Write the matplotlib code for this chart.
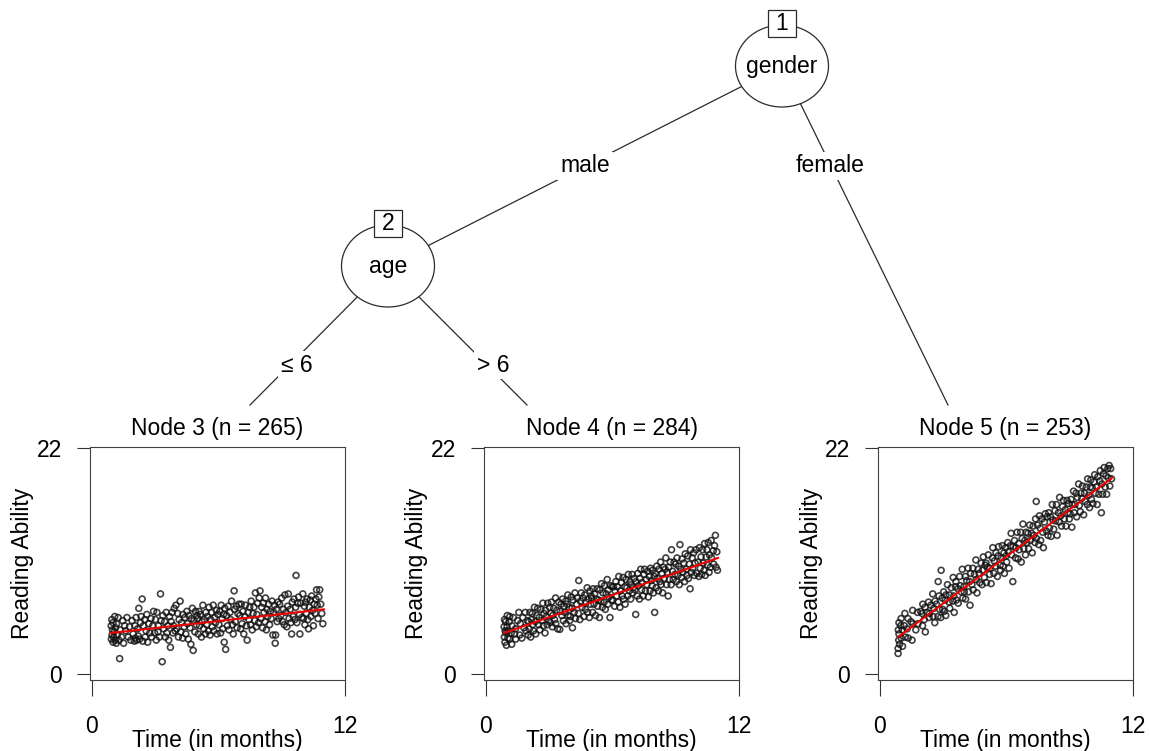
import numpy as np
import matplotlib
matplotlib.use("Agg")
import matplotlib.pyplot as plt
from matplotlib.patches import Ellipse, Rectangle

plt.rcParams['font.family'] = ['Liberation Sans', 'DejaVu Sans']
plt.rcParams['font.size'] = 16.5

# Node 3: time in months / reading ability
node3_time = [
    0.91, 0.92, 0.94, 0.95, 0.97, 1.0, 1.0, 1.03, 1.05, 1.08, 1.1, 1.12, 1.15, 1.17, 1.2, 1.24, 1.28, 1.31, 1.33, 1.4,
    1.46, 1.5, 1.55, 1.6, 1.66, 1.72, 1.78, 1.84, 1.9, 1.95,
    2.01, 2.04, 2.05, 2.09, 2.12, 2.16, 2.2, 2.22, 2.26, 2.3, 2.33, 2.38, 2.41, 2.44, 2.5, 2.52, 2.57, 2.6, 2.64, 2.7,
    2.74, 2.8, 2.83, 2.88, 2.92, 2.97,
    3.01, 3.05, 3.08, 3.13, 3.15, 3.2, 3.25, 3.28, 3.33, 3.36, 3.4, 3.45, 3.48, 3.52, 3.55, 3.6, 3.64, 3.68, 3.72, 3.76,
    3.8, 3.84, 3.87, 3.9, 3.94, 3.98,
    4.02, 4.06, 4.1, 4.13, 4.18, 4.21, 4.25, 4.3, 4.32, 4.37, 4.4, 4.45, 4.5, 4.53, 4.57, 4.6, 4.65, 4.69, 4.72, 4.76,
    4.8, 4.84, 4.88, 4.91, 4.95, 4.98,
    5.01, 5.04, 5.08, 5.1, 5.14, 5.19, 5.22, 5.26, 5.3, 5.33, 5.38, 5.4, 5.44, 5.48, 5.52, 5.55, 5.6, 5.63, 5.67, 5.7,
    5.75, 5.78, 5.82, 5.86, 5.9, 5.93, 5.97,
    6.02, 6.06, 6.1, 6.13, 6.17, 6.2, 6.24, 6.27, 6.3, 6.34, 6.38, 6.42, 6.46, 6.5, 6.54, 6.58, 6.62, 6.66, 6.7, 6.74,
    6.77, 6.8, 6.85, 6.88, 6.92, 6.97,
    7.01, 7.05, 7.08, 7.12, 7.16, 7.2, 7.25, 7.28, 7.32, 7.36, 7.4, 7.44, 7.48, 7.52, 7.55, 7.6, 7.64, 7.68, 7.72, 7.75,
    7.79, 7.82, 7.86, 7.9, 7.93, 7.97,
    8.02, 8.05, 8.09, 8.12, 8.16, 8.2, 8.23, 8.27, 8.3, 8.34, 8.38, 8.42, 8.46, 8.5, 8.54, 8.58, 8.62, 8.66, 8.69, 8.71,
    8.75, 8.78, 8.82, 8.86, 8.9, 8.95,
    9.0, 9.04, 9.08, 9.12, 9.15, 9.2, 9.24, 9.28, 9.31, 9.35, 9.4, 9.43, 9.47, 9.5, 9.54, 9.58, 9.62, 9.66, 9.68, 9.72,
    9.76, 9.8, 9.84, 9.86, 9.9, 9.95,
    10.0, 10.03, 10.07, 10.1, 10.13, 10.17, 10.2, 10.24, 10.27, 10.31, 10.35, 10.38, 10.42, 10.46, 10.5, 10.54, 10.58,
    10.62, 10.65, 10.68, 10.72, 10.76, 10.8, 10.85, 10.9, 10.95,
]
node3_reading = [
    4.7, 3.4, 5.3, 3.8, 4.3, 3.1, 5.0, 3.6, 4.1, 5.6, 3.3, 4.5, 3.0, 4.9, 3.8, 5.5, 3.3, 1.5, 4.3, 3.6,
    5.2, 3.0, 4.7, 4.2, 5.5, 3.6, 4.6, 3.3, 5.2, 3.9,
    3.2, 4.7, 3.5, 5.5, 3.3, 4.4, 3.7, 6.4, 3.4, 5.0, 5.6, 7.3, 3.2, 4.7, 5.3, 3.6, 4.2, 5.8, 3.1, 4.9,
    4.0, 5.4, 3.6, 4.7, 6.1, 4.0,
    5.3, 3.3, 6.0, 4.1, 4.7, 3.6, 7.8, 5.2, 1.2, 5.7, 4.4, 5.1, 3.6, 6.0, 4.0, 4.7, 3.3, 5.6, 2.6, 5.1,
    6.0, 4.0, 4.7, 6.4, 4.2, 6.7,
    4.4, 5.9, 3.6, 5.3, 7.1, 4.1, 5.0, 3.5, 5.8, 4.6, 5.5, 3.9, 6.1, 4.9, 3.4, 5.7, 4.5, 2.9, 5.4, 6.4,
    2.3, 5.2, 4.1, 6.1, 4.8, 5.7,
    5.4, 3.9, 6.1, 4.7, 5.8, 3.6, 5.1, 6.7, 4.4, 5.3, 3.9, 6.0, 4.8, 5.6, 4.2, 6.5, 3.8, 5.3, 6.0, 4.6,
    6.7, 4.2, 5.5, 5.0, 6.2, 3.9, 5.8,
    4.8, 6.1, 4.0, 6.7, 5.4, 4.4, 5.8, 3.1, 6.4, 2.4, 5.7, 4.7, 6.6, 4.3, 6.0, 5.3, 7.1, 4.8, 3.9, 8.1,
    6.3, 5.1, 6.6, 4.5, 5.9, 6.8,
    5.7, 4.4, 6.8, 4.9, 6.1, 3.9, 5.6, 6.7, 4.7, 3.3, 6.0, 5.3, 6.5, 4.8, 7.1, 4.3, 5.9, 6.5, 5.2, 7.9,
    4.6, 5.8, 6.9, 5.0, 7.4, 8.1,
    5.4, 6.5, 4.5, 6.9, 6.0, 5.1, 7.4, 4.3, 6.3, 5.6, 6.8, 4.8, 6.1, 5.4, 7.1, 3.8, 6.0, 6.7, 3.0, 3.8,
    6.3, 5.1, 7.0, 5.4, 6.8, 5.7,
    7.4, 5.1, 6.3, 4.8, 7.7, 6.0, 4.6, 6.6, 7.8, 5.4, 6.3, 5.0, 3.9, 7.0, 5.6, 7.3, 5.3, 6.5, 9.6, 5.0,
    6.9, 7.5, 5.8, 3.9, 6.9, 5.5,
    7.8, 5.4, 6.6, 4.8, 7.0, 5.9, 7.3, 5.3, 4.4, 6.5, 7.2, 5.6, 7.6, 6.2, 4.7, 6.8, 5.9,
    7.3, 8.2, 6.7, 5.4, 7.5, 8.2, 6.8, 5.9, 4.9,
]

# Node 4
node4_time = [
    0.86, 0.87, 0.88, 0.9, 0.91, 0.93, 0.95, 0.97, 1.0, 1.01, 1.04, 1.05, 1.1, 1.12, 1.13, 1.2, 1.22, 1.23, 1.3, 1.36,
    1.4, 1.41, 1.5, 1.56, 1.6, 1.63, 1.7, 1.75, 1.8, 1.86, 1.9, 1.96,
    2.0, 2.03, 2.06, 2.08, 2.12, 2.15, 2.2, 2.21, 2.25, 2.3, 2.34, 2.36, 2.4, 2.45, 2.5, 2.52, 2.55, 2.6, 2.64, 2.7,
    2.72, 2.75, 2.8, 2.82, 2.87, 2.9, 2.93, 2.98,
    3.02, 3.05, 3.08, 3.1, 3.15, 3.17, 3.21, 3.25, 3.3, 3.31, 3.36, 3.4, 3.45, 3.5, 3.52, 3.56, 3.6, 3.63, 3.67, 3.7,
    3.74, 3.78, 3.8, 3.85, 3.88, 3.9, 3.95, 3.97,
    4.0, 4.04, 4.08, 4.1, 4.13, 4.18, 4.22, 4.25, 4.3, 4.33, 4.38, 4.4, 4.45, 4.48, 4.52, 4.56, 4.6, 4.65, 4.68, 4.72,
    4.75, 4.8, 4.82, 4.86, 4.9, 4.93, 4.96, 4.99,
    5.02, 5.06, 5.08, 5.12, 5.15, 5.2, 5.24, 5.27, 5.3, 5.34, 5.38, 5.4, 5.45, 5.48, 5.52, 5.55, 5.6, 5.62, 5.66, 5.7,
    5.75, 5.78, 5.8, 5.84, 5.88, 5.9, 5.95, 5.98,
    6.01, 6.05, 6.1, 6.12, 6.16, 6.2, 6.23, 6.27, 6.3, 6.35, 6.38, 6.42, 6.46, 6.5, 6.53, 6.58, 6.6, 6.64, 6.68, 6.72,
    6.75, 6.8, 6.83, 6.86, 6.9, 6.93, 6.96, 6.99,
    7.02, 7.06, 7.1, 7.12, 7.17, 7.2, 7.23, 7.28, 7.3, 7.34, 7.38, 7.4, 7.45, 7.5, 7.52, 7.56, 7.6, 7.63, 7.67, 7.7,
    7.74, 7.78, 7.8, 7.85, 7.88, 7.9, 7.94, 7.98,
    8.0, 8.03, 8.07, 8.1, 8.14, 8.18, 8.2, 8.25, 8.28, 8.3, 8.35, 8.38, 8.42, 8.45, 8.5, 8.53, 8.57, 8.6, 8.64, 8.66,
    8.7, 8.74, 8.78, 8.8, 8.85, 8.88, 8.92, 8.96,
    9.0, 9.03, 9.06, 9.1, 9.14, 9.17, 9.2, 9.24, 9.28, 9.3, 9.34, 9.38, 9.42, 9.45, 9.5, 9.53, 9.57, 9.6, 9.64, 9.68,
    9.7, 9.74, 9.78, 9.8, 9.85, 9.88, 9.92, 9.96,
    10.0, 10.06, 10.1, 10.12, 10.16, 10.2, 10.23, 10.27, 10.3, 10.34, 10.37, 10.4, 10.44, 10.48, 10.5, 10.54,
    10.58, 10.6, 10.64, 10.68, 10.7, 10.78, 10.8, 10.84, 10.88, 10.91, 10.95, 10.98,
]
node4_reading = [
    4.6, 3.6, 5.3, 3.1, 4.2, 5.1, 4.0, 2.8, 4.6, 5.7, 3.5, 4.2, 5.1, 3.4, 5.6, 4.0, 2.9, 4.7, 5.5, 3.9,
    4.4, 3.4, 5.2, 6.0, 3.8, 4.9, 3.5, 5.5, 4.5, 6.0, 4.2, 5.2,
    3.8, 5.1, 4.4, 6.0, 3.6, 5.3, 5.9, 4.8, 4.2, 6.5, 5.1, 3.9, 5.7, 6.4, 4.8, 5.5, 4.3, 6.3, 5.2, 6.9,
    4.7, 5.9, 4.0, 6.2, 5.6, 4.8, 6.9, 5.2,
    6.5, 5.0, 5.9, 7.0, 4.6, 5.7, 6.4, 5.3, 7.4, 4.9, 6.2, 4.4, 7.0, 4.35, 6.1, 6.8, 5.7, 7.3, 5.2, 6.6,
    6.0, 7.1, 4.9, 6.8, 7.7, 5.7, 6.5, 5.2,
    5.6, 7.5, 6.4, 4.5, 7.2, 6.0, 7.9, 5.4, 6.8, 7.4, 5.9, 9.1, 5.3, 7.1, 7.9, 6.5, 7.4, 5.6, 7.7, 6.3,
    7.0, 8.4, 6.0, 7.3, 5.5, 8.1, 6.8, 7.6,
    7.4, 6.0, 8.3, 6.8, 7.8, 5.7, 7.3, 8.3, 6.6, 7.2, 5.5, 8.2, 7.1, 8.8, 6.5, 7.9, 7.0, 8.6, 6.3, 7.8,
    9.2, 6.8, 8.2, 7.5, 5.5, 8.6, 7.2, 8.5,
    7.2, 8.5, 6.6, 8.1, 9.0, 7.6, 8.5, 7.0, 9.5, 6.5, 8.1, 8.9, 7.6, 9.4, 7.3, 8.5, 6.8, 9.2, 8.4, 7.6,
    9.7, 8.1, 9.0, 7.3, 8.7, 9.7, 7.9, 8.4,
    9.3, 8.2, 5.8, 9.0, 7.6, 9.8, 8.6, 7.3, 9.3, 10.2, 8.2, 8.9, 7.6, 9.7, 10.2, 8.1, 9.2, 8.7, 10.0, 7.5,
    9.5, 8.1, 10.3, 9.1, 8.6, 10.1, 7.9, 9.5,
    6.0, 9.8, 8.4, 10.5, 9.3, 8.1, 10.2, 9.0, 10.9, 8.7, 9.8, 7.9, 10.4, 9.3, 10.2, 11.3, 8.7, 9.9, 7.6, 10.4,
    9.2, 10.9, 8.7, 12.1, 10.0, 9.2, 10.9, 9.7,
    10.7, 9.0, 11.3, 9.6, 10.5, 8.7, 12.6, 10.2, 9.4, 11.2, 9.9, 10.8, 9.0, 11.7, 10.2, 9.6, 11.5, 9.3, 10.7, 8.3,
    12.1, 9.9, 11.3, 10.3, 11.8, 9.6, 10.8, 12.1,
    9.8, 10.9, 9.5, 12.3, 10.3, 11.4, 9.7, 12.1, 10.8, 10.1, 12.7, 9.6, 11.4, 12.1, 10.6, 12.8,
    9.9, 11.6, 10.4, 13.0, 11.3, 12.0, 10.7, 12.5, 13.5, 10.4, 11.9, 10.1,
]

# Node 5
node5_time = [
    0.86, 0.86, 0.87, 0.89, 0.9, 0.9, 0.93, 0.98, 1.0, 1.01, 1.06, 1.07, 1.15, 1.18, 1.2, 1.29, 1.33, 1.34, 1.47, 1.52,
    1.55, 1.56, 1.7, 1.78, 1.8, 1.93,
    2.0, 2.02, 2.03, 2.1, 2.14, 2.15, 2.22, 2.3, 2.33, 2.35, 2.41, 2.5, 2.52, 2.55, 2.6, 2.61, 2.68, 2.75, 2.76, 2.8,
    2.83, 2.88, 2.9, 2.95, 2.97,
    3.02, 3.04, 3.09, 3.12, 3.13, 3.2, 3.28, 3.3, 3.31, 3.38, 3.45, 3.47, 3.5, 3.52, 3.58, 3.6, 3.62, 3.7, 3.71, 3.78,
    3.82, 3.85, 3.9, 3.93, 3.98,
    4.0, 4.05, 4.06, 4.11, 4.18, 4.2, 4.25, 4.27, 4.3, 4.36, 4.4, 4.42, 4.48, 4.55, 4.57, 4.6, 4.66, 4.7, 4.73, 4.8,
    4.84, 4.86, 4.9, 4.95, 4.99,
    5.03, 5.05, 5.1, 5.14, 5.2, 5.21, 5.27, 5.33, 5.35, 5.4, 5.42, 5.48, 5.5, 5.57, 5.6, 5.63, 5.7, 5.72, 5.75, 5.8,
    5.83, 5.88, 5.9, 5.96, 5.98,
    6.01, 6.06, 6.08, 6.12, 6.19, 6.22, 6.25, 6.3, 6.32, 6.38, 6.43, 6.45, 6.5, 6.55, 6.58, 6.6, 6.67, 6.7, 6.74, 6.78,
    6.82, 6.87, 6.9, 6.93, 6.97,
    7.02, 7.05, 7.1, 7.13, 7.18, 7.22, 7.26, 7.3, 7.35, 7.38, 7.41, 7.42, 7.47, 7.53, 7.56, 7.6, 7.62, 7.68, 7.72, 7.75,
    7.8, 7.84, 7.9, 7.93, 7.97,
    8.0, 8.04, 8.09, 8.11, 8.17, 8.2, 8.24, 8.3, 8.33, 8.37, 8.4, 8.46, 8.5, 8.52, 8.58, 8.61, 8.66, 8.7, 8.74, 8.79,
    8.82, 8.87, 8.9, 8.95, 8.98,
    9.02, 9.06, 9.1, 9.12, 9.18, 9.21, 9.25, 9.3, 9.33, 9.36, 9.42, 9.45, 9.5, 9.53, 9.57, 9.6, 9.66, 9.7, 9.73, 9.78,
    9.83, 9.85, 9.9, 9.94, 9.97,
    10.0, 10.03, 10.07, 10.1, 10.15, 10.18, 10.22, 10.27, 10.3, 10.33, 10.38, 10.42, 10.45, 10.5, 10.52, 10.56, 10.6,
    10.63, 10.68, 10.72, 10.75, 10.8, 10.83, 10.87, 10.9, 10.94, 10.98,
]
node5_reading = [
    2.0, 2.5, 4.3, 3.3, 5.0, 3.9, 2.9, 4.7, 5.4, 3.5, 4.3, 2.7, 4.7, 5.9, 3.6, 4.4, 5.4, 3.5, 5.1, 3.3,
    6.2, 4.9, 4.3, 6.0, 4.9, 6.1,
    5.9, 4.7, 6.8, 5.3, 6.5, 4.1, 6.0, 7.0, 5.5, 5.9, 6.7, 7.8, 5.6, 6.4, 5.0, 7.1, 6.8, 5.6, 9.0, 7.6,
    6.3, 5.5, 10.1, 7.4, 6.3,
    8.0, 6.1, 7.2, 5.7, 7.7, 8.7, 7.0, 7.7, 6.4, 8.4, 7.1, 9.4, 7.6, 6.0, 8.5, 9.0, 7.2, 8.3, 6.9, 9.5,
    8.6, 8.0, 10.2, 7.4, 8.5,
    8.0, 9.5, 7.3, 9.1, 10.3, 8.0, 9.0, 6.7, 9.8, 8.7, 10.3, 8.2, 9.7, 11.1, 9.2, 7.9, 10.2, 9.8, 8.9, 10.8,
    8.7, 10.1, 11.4, 9.4, 10.6,
    10.8, 8.9, 10.4, 11.6, 9.7, 10.3, 8.8, 11.3, 12.3, 9.8, 11.0, 10.5, 11.8, 9.5, 11.5, 12.4, 10.6, 10.1, 11.3, 12.5,
    10.5, 11.8, 9.8, 12.3, 11.5,
    10.9, 12.8, 11.9, 10.3, 12.5, 13.7, 11.6, 9.0, 12.4, 13.0, 11.3, 12.3, 13.8, 11.2, 12.7, 12.1, 13.8, 10.9, 13.2, 14.6,
    12.2, 13.0, 11.6, 13.8, 12.8,
    13.7, 12.2, 14.5, 13.0, 13.7, 11.8, 14.4, 13.5, 12.8, 15.1, 16.8, 13.2, 14.5, 12.6, 15.4, 14.2, 13.0, 15.1, 13.8, 12.3,
    14.8, 15.6, 13.9, 15.3, 13.5,
    15.7, 14.2, 15.3, 13.4, 16.5, 15.0, 14.1, 15.9, 14.9, 16.5, 13.5, 15.7, 14.8, 17.2, 15.4, 14.4, 16.3, 16.9, 15.1, 16.0,
    14.4, 16.9, 15.7, 16.6, 15.1,
    15.6, 17.0, 14.3, 16.5, 17.8, 15.7, 16.5, 17.6, 15.3, 17.2, 18.5, 16.4, 15.8, 17.6, 17.1, 18.3, 15.5, 17.6, 16.8, 18.2,
    16.5, 19.0, 17.4, 16.2, 18.2,
    18.9, 17.0, 18.1, 16.6, 18.7, 19.4, 17.6, 18.2, 16.5, 19.2, 17.5, 18.8, 19.8, 15.7, 18.5, 17.5, 19.5,
    20.1, 18.2, 19.3, 17.5, 20.0, 19.1, 20.3, 18.3, 20.0, 19.0,
]

# fitted trend per node: start and end of the red line
node3_trend_time, node3_trend_value = [0.9, 11.0], [4.0, 6.3]
node4_trend_time, node4_trend_value = [0.85, 11.0], [4.0, 11.3]
node5_trend_time, node5_trend_value = [0.85, 11.0], [3.6, 19.1]

node_ids = [3, 4, 5]
node_time = [node3_time, node4_time, node5_time]
node_reading = [node3_reading, node4_reading, node5_reading]
node_trends = [(node3_trend_time, node3_trend_value),
               (node4_trend_time, node4_trend_value),
               (node5_trend_time, node5_trend_value)]

inner_nodes = [(1, "gender"), (2, "age")]
split_labels = ["male", "female", "\u2264 6", "> 6"]

W, H = 1150, 751
fig = plt.figure(figsize=(W / 100, H / 100), dpi=100)

# tree part drawn in pixel coordinates
tree = fig.add_axes([0, 0, 1, 1])
tree.set_xlim(0, W)
tree.set_ylim(H, 0)
tree.axis('off')

line_col = '#2b2b2b'
node_xy = {1: (782, 66), 2: (388, 266)}
edges = [
    (node_xy[1], (388, 266), split_labels[0], (585, 166)),
    (node_xy[1], (948, 405), split_labels[1], (830, 166)),
    (node_xy[2], (250, 405), split_labels[2], (297, 365)),
    (node_xy[2], (527, 405), split_labels[3], (493, 365)),
]
for (x0, y0), (x1, y1), lab, (lx, ly) in edges:
    tree.plot([x0, x1], [y0, y1], color=line_col, lw=0.9, zorder=1)
    tree.text(lx, ly, lab, ha='center', va='center', zorder=3,
              bbox=dict(boxstyle='square,pad=0.12', fc='white', ec='none'))

for nid, name in inner_nodes:
    cx, cy = node_xy[nid]
    tree.add_patch(Ellipse((cx, cy), 93, 82, fc='white', ec=line_col, lw=0.9, zorder=2))
    tree.text(cx, cy, name, ha='center', va='center', zorder=3)
    tree.add_patch(Rectangle((cx - 14, cy - 56), 28, 27, fc='white', ec=line_col, lw=0.9, zorder=4))
    tree.text(cx, cy - 42.5, str(nid), ha='center', va='center', zorder=5)

# terminal node panels
for k, nid in enumerate(node_ids):
    t, r = node_time[k], node_reading[k]
    left = 90 + 394 * k
    ax = fig.add_axes([left / W, (H - 680) / H, 255 / W, 233 / H])
    ax.scatter(t, r, s=18, facecolors='none', edgecolors='#111111',
               linewidths=1.2, alpha=0.8, zorder=2)
    ax.plot(node_trends[k][0], node_trends[k][1], color='#ee0000', lw=1.5, zorder=3)
    ax.set_xlim(-0.094, 11.906)
    ax.set_ylim(-0.58, 22.1)
    ax.set_xticks([0, 12])
    ax.set_yticks([0, 22])
    ax.tick_params(axis='x', length=11.5, pad=14, color='#333333', width=0.8)
    ax.tick_params(axis='y', length=9.4, pad=10.5, color='#333333', width=0.8)
    for sp in ax.spines.values():
        sp.set_color('#404040')
        sp.set_linewidth(0.8)
    ax.set_xlabel("Time (in months)", va='center')
    ax.xaxis.set_label_coords(0.5, (680 - 740) / 233)
    ax.set_ylabel("Reading Ability", va='center')
    ax.yaxis.set_label_coords((23 - 90) / 255, 0.5)
    ax.text(0.5, (680 - 429) / 233, f"Node {nid} (n = {len(t)})", transform=ax.transAxes,
            ha='center', va='center')

fig.savefig("out.png", dpi=100)
